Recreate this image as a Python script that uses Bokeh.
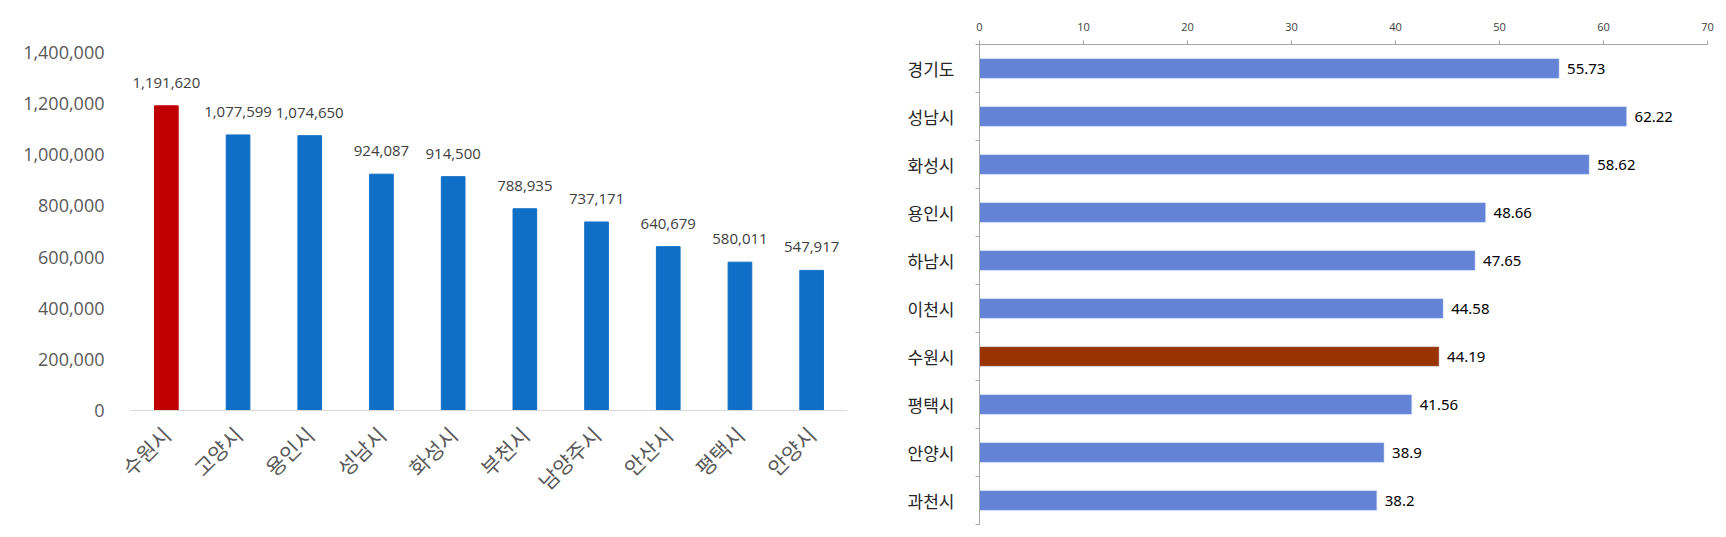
import math
from bokeh.plotting import figure
from bokeh.layouts import row
from bokeh.models import (ColumnDataSource, FactorRange, Range1d, SingleIntervalTicker,
                          FixedTicker, NumeralTickFormatter)
from bokeh.embed import file_html
from bokeh.resources import INLINE

# ---- data: left chart (population) ----
cities = ["수원시", "고양시", "용인시", "성남시", "화성시", "부천시", "남양주시", "안산시", "평택시", "안양시"]
population = [1191620, 1077599, 1074650, 924087, 914500, 788935, 737171, 640679, 580011, 547917]
pop_highlight = "수원시"

# ---- data: right chart ----
regions = ["경기도", "성남시", "화성시", "용인시", "하남시", "이천시", "수원시", "평택시", "안양시", "과천시"]
rates = [55.73, 62.22, 58.62, 48.66, 47.65, 44.58, 44.19, 41.56, 38.9, 38.2]
rate_highlight = "수원시"
rate_labels = ["55.73", "62.22", "58.62", "48.66", "47.65", "44.58", "44.19", "41.56", "38.9", "38.2"]

NUM_FONT = "Open Sans"
KR_FONT = "Noto Sans CJK KR"

# ================= left chart =================
src1 = ColumnDataSource(dict(
    city=cities,
    pop=population,
    label=[f"{v:,}" for v in population],
    color=["#C00000" if c == pop_highlight else "#0F6FC6" for c in cities],
))

p1 = figure(x_range=FactorRange(*cities), y_range=Range1d(0, 1400000),
            width=868, height=529, output_backend="svg", toolbar_location=None,
            min_border_left=130, min_border_top=52, min_border_right=21, min_border_bottom=119)
p1.frame_align = False
p1.vbar(x="city", top="pop", width=0.33, color="color", source=src1)
p1.text(x="city", y="pop", text="label", source=src1, text_align="center",
        text_baseline="alphabetic", y_offset=-23, text_font_size="15px",
        text_color="#404040", text_font={"value": NUM_FONT})

p1.xgrid.visible = False
p1.ygrid.visible = False
p1.outline_line_color = None

ya = p1.yaxis[0]
ya.ticker = SingleIntervalTicker(interval=200000)
ya.formatter = NumeralTickFormatter(format="0,0")
ya.axis_line_color = None
ya.major_tick_line_color = None
ya.minor_tick_line_color = None
ya.major_tick_out = 0
ya.major_tick_in = 0
ya.major_label_standoff = 22
ya.major_label_text_font_size = "18px"
ya.major_label_text_color = "#595959"
ya.major_label_text_font = NUM_FONT

xa = p1.xaxis[0]
xa.axis_line_color = "#D9D9D9"
xa.major_tick_line_color = None
xa.minor_tick_line_color = None
xa.major_tick_out = 0
xa.major_tick_in = 0
xa.major_label_orientation = math.pi / 4
xa.major_label_standoff = 20
xa.major_label_text_font_size = "21px"
xa.major_label_text_color = "#595959"
xa.major_label_text_font = KR_FONT

# ================= right chart =================
n = len(regions)
centers = [2 * i + 1 for i in range(n)]
src2 = ColumnDataSource(dict(
    y=centers,
    rate=rates,
    label=rate_labels,
    color=["#993300" if r == rate_highlight else "#6283D6" for r in regions],
))

p2 = figure(x_range=Range1d(0, 70), y_range=Range1d(2 * n, 0),
            width=850, height=529, output_backend="svg", toolbar_location=None,
            x_axis_location="above",
            min_border_left=111, min_border_top=44, min_border_right=11, min_border_bottom=5)
p2.frame_align = False
p2.hbar(y="y", right="rate", left=0, height=0.82, color="color", source=src2,
        line_color="#C9D4F0", line_width=0.5)
p2.text(x="rate", y="y", text="label", source=src2, text_align="left",
        text_baseline="middle", x_offset=8, text_font_size="15px",
        text_color="#000000", text_font={"value": "Noto Sans"})

p2.xgrid.visible = False
p2.ygrid.visible = False
p2.outline_line_color = None

xa2 = p2.xaxis[0]
xa2.ticker = SingleIntervalTicker(interval=10)
xa2.axis_line_color = "#A6A6A6"
xa2.major_tick_line_color = "#A6A6A6"
xa2.minor_tick_line_color = None
xa2.major_tick_out = 4
xa2.major_tick_in = 0
xa2.major_label_standoff = 10
xa2.major_label_text_font_size = "11px"
xa2.major_label_text_color = "#404040"
xa2.major_label_text_font = NUM_FONT

ya2 = p2.yaxis[0]
ya2.ticker = FixedTicker(ticks=centers, minor_ticks=list(range(0, 2 * n + 1, 2)))
ya2.major_label_overrides = {c: r for c, r in zip(centers, regions)}
ya2.axis_line_color = "#A6A6A6"
ya2.major_tick_line_color = None
ya2.major_tick_out = 0
ya2.major_tick_in = 0
ya2.minor_tick_line_color = "#A6A6A6"
ya2.minor_tick_out = 4
ya2.minor_tick_in = 0
ya2.major_label_standoff = 21
ya2.major_label_text_font_size = "17px"
ya2.major_label_text_color = "#262626"
ya2.major_label_text_font = KR_FONT

layout = row(p1, p2)
open("out.html", "w").write(file_html(layout, INLINE))
